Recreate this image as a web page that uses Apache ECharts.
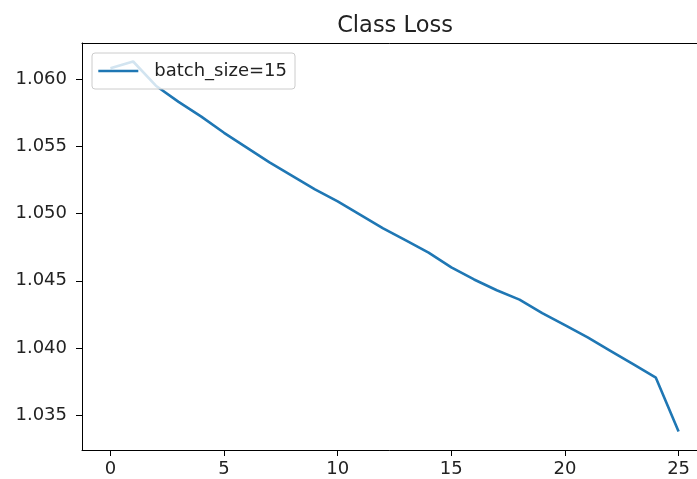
<!DOCTYPE html>
<html>
<head>
<meta charset="utf-8">
<script src="https://cdn.jsdelivr.net/npm/echarts@6/dist/echarts.min.js"></script>
<style>
  html, body { margin: 0; padding: 0; background: #fff; }
  #chart { width: 697px; height: 479px; }
</style>
</head>
<body>
<div id="chart"></div>
<script>
// Per-epoch class loss for one training run
const seriesName = 'batch_size=15';
const epochs = [0, 1, 2, 3, 4, 5, 6, 7, 8, 9, 10, 11, 12, 13, 14, 15, 16, 17, 18, 19, 20, 21, 22, 23, 24, 25];
const classLoss = [1.0608, 1.0613, 1.0595, 1.0583, 1.0572, 1.0560, 1.0549, 1.0538, 1.0528, 1.0518,
                   1.0509, 1.0499, 1.0489, 1.0480, 1.0471, 1.0460, 1.0451, 1.0443, 1.0436, 1.0426,
                   1.0417, 1.0408, 1.0398, 1.0388, 1.0378, 1.0338];
const xTicks = [0, 5, 10, 15, 20, 25];
const yTicks = [1.035, 1.040, 1.045, 1.050, 1.055, 1.060];

// 5% padding around the data range on both axes
const xSpan = epochs[epochs.length - 1] - epochs[0];
const xMin = epochs[0] - 0.05 * xSpan;
const xMax = epochs[epochs.length - 1] + 0.05 * xSpan;
const yLo = Math.min(...classLoss), yHi = Math.max(...classLoss);
const yMin = yLo - 0.05 * (yHi - yLo);
const yMax = yHi + 0.05 * (yHi - yLo);

const FONT = 'DejaVu Sans';
const TEXT = '#222';
const LINE = '#1f77b4';

const chart = echarts.init(document.getElementById('chart'), null, { renderer: 'canvas' });
chart.setOption({
  animation: false,
  backgroundColor: '#fff',
  title: {
    text: 'Class Loss',
    left: 390,
    textAlign: 'center',
    top: 10,
    textStyle: { fontFamily: FONT, fontSize: 22.5, fontWeight: 'normal', color: TEXT }
  },
  legend: {
    show: true,
    left: 92,
    top: 53,
    orient: 'horizontal',
    padding: [9, 8, 9, 5],
    itemWidth: 40,
    itemHeight: 18,
    backgroundColor: 'rgba(255,255,255,0.8)',
    borderColor: '#cccccc',
    borderWidth: 1,
    borderRadius: 3,
    itemStyle: { opacity: 0 },
    lineStyle: { width: 2.6, color: LINE },
    textStyle: { fontFamily: FONT, fontSize: 18, color: TEXT, padding: [0, 0, 0, 11] },
    data: [seriesName]
  },
  grid: {
    left: 82,
    top: 43,
    width: 625,
    height: 407,
    outerBoundsMode: 'none',
    containLabel: false,
    show: false
  },
  xAxis: [{
    type: 'value',
    position: 'bottom',
    min: xMin,
    max: xMax,
    axisLine: { show: true, onZero: false, lineStyle: { color: '#000', width: 1 } },
    axisTick: { show: true, length: 6, customValues: xTicks, lineStyle: { color: '#000', width: 1 } },
    axisLabel: {
      customValues: xTicks,
      margin: 10,
      fontFamily: FONT, fontSize: 18, color: TEXT,
      formatter: v => String(v)
    },
    splitLine: { show: false }
  }, {
    // top frame edge
    type: 'value',
    position: 'top',
    min: xMin,
    max: xMax,
    axisLine: { show: true, onZero: false, lineStyle: { color: '#000', width: 1 } },
    axisTick: { show: false },
    axisLabel: { show: false },
    splitLine: { show: false }
  }],
  yAxis: {
    type: 'value',
    min: yMin,
    max: yMax,
    axisLine: { show: true, onZero: false, lineStyle: { color: '#000', width: 1 } },
    axisTick: { show: true, length: 6, customValues: yTicks, lineStyle: { color: '#000', width: 1 } },
    axisLabel: {
      customValues: yTicks,
      margin: 15,
      fontFamily: FONT, fontSize: 18, color: TEXT,
      formatter: v => v.toFixed(3)
    },
    splitLine: { show: false }
  },
  series: [{
    name: seriesName,
    type: 'line',
    xAxisIndex: 0,
    data: epochs.map((e, i) => [e, classLoss[i]]),
    symbol: 'none',
    lineStyle: { color: LINE, width: 2.6 },
    itemStyle: { color: LINE }
  }]
});
</script>
</body>
</html>
